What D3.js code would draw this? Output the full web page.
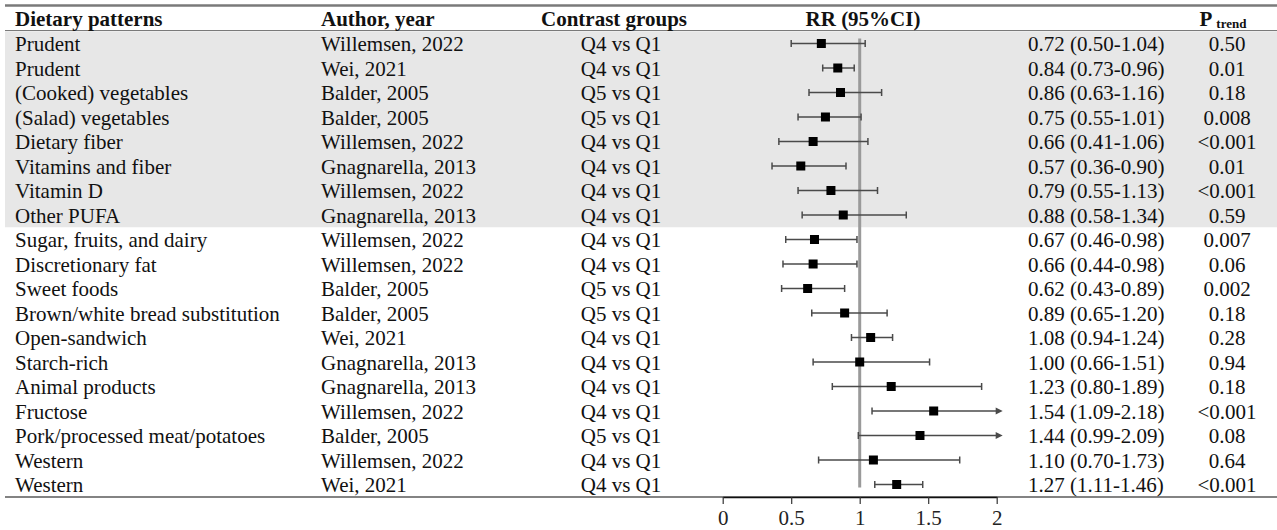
<!DOCTYPE html>
<html>
<head>
<meta charset="utf-8">
<script src="https://cdn.jsdelivr.net/npm/d3@7"></script>
<style>
  body { margin: 0; background: #fff; }
  svg { display: block; }
  text { font-family: "Liberation Serif", "Times New Roman", serif; fill: #111; }
</style>
</head>
<body>
<div id="forest"></div>
<script>
// Forest plot of dietary patterns vs RR
var width = 1277, height = 530;
var FONT_SIZE = 21;
var SERIF = '"Liberation Serif", "Times New Roman", serif';
var SHADE_COLOR = '#e7e7e7';
var RULE_COLOR = '#7a7a7a';
var REF_COLOR = '#9a9a9a';
var CI_COLOR = '#4a4a4a';

var patterns = ['Prudent', 'Prudent', '(Cooked) vegetables', '(Salad) vegetables', 'Dietary fiber',
  'Vitamins and fiber', 'Vitamin D', 'Other PUFA', 'Sugar, fruits, and dairy', 'Discretionary fat',
  'Sweet foods', 'Brown/white bread substitution', 'Open-sandwich', 'Starch-rich', 'Animal products',
  'Fructose', 'Pork/processed meat/potatoes', 'Western', 'Western'];
var authors = ['Willemsen, 2022', 'Wei, 2021', 'Balder, 2005', 'Balder, 2005', 'Willemsen, 2022',
  'Gnagnarella, 2013', 'Willemsen, 2022', 'Gnagnarella, 2013', 'Willemsen, 2022', 'Willemsen, 2022',
  'Balder, 2005', 'Balder, 2005', 'Wei, 2021', 'Gnagnarella, 2013', 'Gnagnarella, 2013',
  'Willemsen, 2022', 'Balder, 2005', 'Willemsen, 2022', 'Wei, 2021'];
var contrasts = ['Q4 vs Q1', 'Q4 vs Q1', 'Q5 vs Q1', 'Q5 vs Q1', 'Q4 vs Q1', 'Q4 vs Q1', 'Q4 vs Q1',
  'Q4 vs Q1', 'Q4 vs Q1', 'Q4 vs Q1', 'Q5 vs Q1', 'Q5 vs Q1', 'Q4 vs Q1', 'Q4 vs Q1', 'Q4 vs Q1',
  'Q4 vs Q1', 'Q5 vs Q1', 'Q4 vs Q1', 'Q4 vs Q1'];
var rr    = [0.72, 0.84, 0.86, 0.75, 0.66, 0.57, 0.79, 0.88, 0.67, 0.66, 0.62, 0.89, 1.08, 1.00, 1.23, 1.54, 1.44, 1.10, 1.27];
var lower = [0.50, 0.73, 0.63, 0.55, 0.41, 0.36, 0.55, 0.58, 0.46, 0.44, 0.43, 0.65, 0.94, 0.66, 0.80, 1.09, 0.99, 0.70, 1.11];
var upper = [1.04, 0.96, 1.16, 1.01, 1.06, 0.90, 1.13, 1.34, 0.98, 0.98, 0.89, 1.20, 1.24, 1.51, 1.89, 2.18, 2.09, 1.73, 1.46];
var pTrend = ['0.50', '0.01', '0.18', '0.008', '<0.001', '0.01', '<0.001', '0.59', '0.007', '0.06',
  '0.002', '0.18', '0.28', '0.94', '0.18', '<0.001', '0.08', '0.64', '<0.001'];
var shadedRows = 8; // first group of patterns sits on a grey band
var axisTicks = [0, 0.5, 1, 1.5, 2];

var rows = patterns.map(function(p, i) {
  return { i: i, pattern: p, author: authors[i], contrast: contrasts[i], rr: rr[i],
    lo: lower[i], hi: upper[i], p: pTrend[i] };
});

var svg = d3.select('#forest').append('svg')
  .attr('width', width)
  .attr('height', height);

var x = d3.scaleLinear().domain([0, 2]).range([722.7, 996.7]);
var y = d3.scalePoint().domain(d3.range(rows.length)).range([43.5, 484.5]);
var step = y.step();

// column x positions
var colPattern = 15, colAuthor = 321, colContrast = 621, colEst = 1028, colP = 1227;

// grey band
svg.append('rect')
  .attr('x', 5)
  .attr('y', y(0) - step / 2)
  .attr('width', width - 5)
  .attr('height', step * shadedRows)
  .attr('fill', SHADE_COLOR);

// table rules
svg.append('line')
  .attr('x1', 5).attr('x2', width)
  .attr('y1', 5.5).attr('y2', 5.5)
  .style('stroke', RULE_COLOR).style('stroke-width', 2.5);
svg.append('line')
  .attr('x1', 5).attr('x2', width)
  .attr('y1', 30.5).attr('y2', 30.5)
  .style('stroke', RULE_COLOR).style('stroke-width', 1.2);
svg.append('line')
  .attr('x1', 5).attr('x2', width)
  .attr('y1', 497).attr('y2', 497)
  .style('stroke', '#5a5a5a').style('stroke-width', 1.5);

// headers
var header = svg.append('g')
  .attr('font-size', FONT_SIZE + 'px')
  .attr('font-weight', 'bold');
header.append('text').attr('x', colPattern).attr('y', 25.5).text('Dietary patterns');
header.append('text').attr('x', colAuthor).attr('y', 25.5).text('Author, year');
header.append('text').attr('x', 614).attr('y', 25.5).attr('text-anchor', 'middle').text('Contrast groups');
header.append('text').attr('x', 863).attr('y', 25.5).attr('text-anchor', 'middle').text('RR (95%CI)');
var pHead = header.append('text').attr('x', 1223).attr('y', 25.5).attr('text-anchor', 'middle');
pHead.append('tspan').text('P');
pHead.append('tspan').attr('font-size', '13px').attr('dx', 4).attr('dy', 2).text('trend');

// table body text
var body = svg.append('g').attr('font-size', FONT_SIZE + 'px');

body.selectAll('text.pattern')
  .data(rows)
  .enter()
  .append('text')
  .attr('class', 'pattern')
  .attr('x', colPattern)
  .attr('y', function(d) { return y(d.i) + 7.5; })
  .text(function(d) { return d.pattern; });

body.selectAll('text.author')
  .data(rows)
  .enter()
  .append('text')
  .attr('class', 'author')
  .attr('x', colAuthor)
  .attr('y', function(d) { return y(d.i) + 7.5; })
  .text(function(d) { return d.author; });

body.selectAll('text.contrast')
  .data(rows)
  .enter()
  .append('text')
  .attr('class', 'contrast')
  .attr('x', colContrast)
  .attr('text-anchor', 'middle')
  .attr('y', function(d) { return y(d.i) + 7.5; })
  .text(function(d) { return d.contrast; });

body.selectAll('text.est')
  .data(rows)
  .enter()
  .append('text')
  .attr('class', 'est')
  .attr('x', colEst)
  .attr('y', function(d) { return y(d.i) + 7.5; })
  .text(function(d) { return d.rr.toFixed(2) + ' (' + d.lo.toFixed(2) + '-' + d.hi.toFixed(2) + ')'; });

body.selectAll('text.ptrend')
  .data(rows)
  .enter()
  .append('text')
  .attr('class', 'ptrend')
  .attr('x', colP)
  .attr('text-anchor', 'middle')
  .attr('y', function(d) { return y(d.i) + 7.5; })
  .text(function(d) { return d.p; });

// reference line at RR = 1
svg.append('line')
  .attr('x1', x(1)).attr('x2', x(1))
  .attr('y1', y(0) - 5).attr('y2', y(rows.length - 1) + 3)
  .style('stroke', REF_COLOR)
  .style('stroke-width', 3);

// confidence intervals
var maxX = x.domain()[1];
var ci = svg.append('g');

ci.selectAll('line.ci')
  .data(rows)
  .enter()
  .append('line')
  .attr('class', 'ci')
  .attr('x1', function(d) { return x(d.lo); })
  .attr('x2', function(d) { return d.hi > maxX ? x(maxX) + 2 : x(d.hi); })
  .attr('y1', function(d) { return y(d.i); })
  .attr('y2', function(d) { return y(d.i); })
  .style('stroke', CI_COLOR)
  .style('stroke-width', 1.5);

// caps
ci.selectAll('line.capLo')
  .data(rows)
  .enter()
  .append('line')
  .attr('class', 'capLo')
  .attr('x1', function(d) { return x(d.lo); })
  .attr('x2', function(d) { return x(d.lo); })
  .attr('y1', function(d) { return y(d.i) - 3.5; })
  .attr('y2', function(d) { return y(d.i) + 3.5; })
  .style('stroke', CI_COLOR)
  .style('stroke-width', 1.5);

ci.selectAll('line.capHi')
  .data(rows.filter(function(d) { return d.hi <= maxX; }))
  .enter()
  .append('line')
  .attr('class', 'capHi')
  .attr('x1', function(d) { return x(d.hi); })
  .attr('x2', function(d) { return x(d.hi); })
  .attr('y1', function(d) { return y(d.i) - 3.5; })
  .attr('y2', function(d) { return y(d.i) + 3.5; })
  .style('stroke', CI_COLOR)
  .style('stroke-width', 1.5);

// arrows for intervals running past the axis
ci.selectAll('path.arrow')
  .data(rows.filter(function(d) { return d.hi > maxX; }))
  .enter()
  .append('path')
  .attr('class', 'arrow')
  .attr('d', function(d) {
    var tip = x(maxX) + 6, cy = y(d.i);
    return 'M' + (tip - 7) + ',' + (cy - 3.5) + 'L' + tip + ',' + cy + 'L' + (tip - 7) + ',' + (cy + 3.5) + 'Z';
  })
  .style('fill', CI_COLOR);

// point estimates
ci.selectAll('rect.point')
  .data(rows)
  .enter()
  .append('rect')
  .attr('class', 'point')
  .attr('x', function(d) { return x(d.rr) - 4.5; })
  .attr('y', function(d) { return y(d.i) - 4.5; })
  .attr('width', 9)
  .attr('height', 9)
  .attr('fill', '#000');

// x axis
var xAxis = d3.axisBottom(x)
  .tickValues(axisTicks)
  .tickSize(7)
  .tickSizeOuter(0)
  .tickPadding(6)
  .tickFormat(function(d) { return String(d); });

var axisG = svg.append('g')
  .attr('transform', 'translate(0,497)')
  .call(xAxis);
axisG.attr('font-family', SERIF).attr('font-size', 21);
axisG.select('.domain').style('stroke', '#111').style('stroke-width', 1.5);
axisG.selectAll('.tick line').style('stroke', '#333').style('stroke-width', 1.2);
axisG.selectAll('.tick text')
  .style('font-family', SERIF)
  .style('font-size', '21px')
  .style('fill', '#222');
</script>
</body>
</html>
